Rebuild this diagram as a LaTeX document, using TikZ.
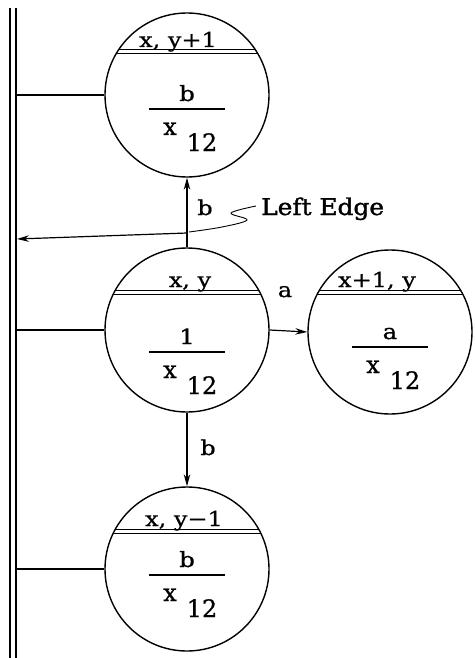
\documentclass[tikz,border=0pt]{standalone}
\usepackage{fontspec}
\usetikzlibrary{arrows.meta}
\newfontfamily\labfont{DejaVu Serif}[FakeBold=0.7]
\newfontfamily\edgefont{DejaVu Serif}[FakeBold=1.4]
\newcommand\wide[1]{\scalebox{1.17}[1]{#1}}
% #1 name, #2 cx, #3 cy, #4 header, #5 numerator, #6 header line offset, #7 fraction offset, #8 header x shift
\newcommand\statecell[8]{%
  \node[state] (#1) at (#2,#3) {};
  \begin{scope}
    \clip (#2,#3) circle [radius=82pt];
    \draw[hline] (#2-90,#3+#6) -- (#2+90,#3+#6);
    \draw[hline] (#2-90,#3+#6+4) -- (#2+90,#3+#6+4);
  \end{scope}
  \node[hdr,anchor=base] (#1h) at (#2+#8,#3+#6-3) {\wide{#4}};
  \node[num,anchor=base] (#1n) at (#2,#3+6+#7) {\wide{#5}};
  \draw[fbar] (#2-38,#3+14+#7) -- (#2+38,#3+14+#7);
  \node[den,anchor=base] (#1x) at (#2-17,#3+40+#7) {x};
  \node[den,anchor=base] (#1s) at (#2+15,#3+56+#7) {12};
}
\begin{document}
\begin{tikzpicture}[x=1pt,y=-1pt,
  state/.style={draw,circle,line width=1.4pt,minimum size=164pt,inner sep=0pt},
  hdr/.style={font=\labfont\fontsize{20.5}{24}\selectfont,inner sep=0pt},
  num/.style={font=\labfont\fontsize{21}{25}\selectfont,inner sep=0pt},
  den/.style={font=\labfont\fontsize{24}{28}\selectfont,inner sep=0pt},
  lab/.style={font=\labfont\fontsize{20.5}{24}\selectfont,inner sep=0pt},
  edge label/.style={font=\edgefont\fontsize{23}{27}\selectfont,inner sep=0pt},
  hline/.style={line width=1pt},
  fbar/.style={line width=1.4pt},
  conn/.style={line width=1.2pt},
  arr/.style={conn,-{Stealth[length=12pt,width=6.5pt]}},
  rail/.style={line width=2pt},
]
\useasboundingbox (0,0) rectangle (474,658);
% double rail
\draw[rail] (10,8) -- (10,658);
\draw[rail] (16,8) -- (16,658);
\coordinate (rail) at (16.5,0);

\statecell{top}{187}{95}{x, y+1}{b}{-45}{0}{-9}
\statecell{mid}{187}{330}{x, y}{1}{-40}{8}{3}
\statecell{right}{390}{332}{x+1, y}{a}{-42}{1}{-13}
\statecell{bot}{187}{569}{x, y−1}{b}{-40}{-8}{-3}

% rail connectors
\draw[conn] (top.west) -- (top.west -| rail);
\draw[conn] (mid.west) -- (mid.west -| rail);
\draw[conn] (bot.west) -- (bot.west -| rail);

% transitions
\draw[arr] (mid.north) -- (top.south);
\node[lab,anchor=base] (lb1) at (205,215) {\wide{b}};
\draw[arr] (mid.east) -- (right.west);
\node[lab,anchor=base] (la) at (285,297) {\wide{a}};
\draw[arr] (mid.south) -- (bot.north);
\node[lab,anchor=base] (lb2) at (208,455) {\wide{b}};

% left edge
\coordinate (le) at (187,233);
\coordinate (leEnd) at (17,239);
\draw[arr] (le) -- (leEnd);
\draw[line width=0.9pt] plot[smooth,tension=0.6] coordinates {(189,232) (222,227) (247,220) (231,213) (256,206)};
\node[edge label,anchor=base west] (ledge) at (261,215) {\scalebox{1.08}[1]{Left Edge}};
\end{tikzpicture}
\end{document}
